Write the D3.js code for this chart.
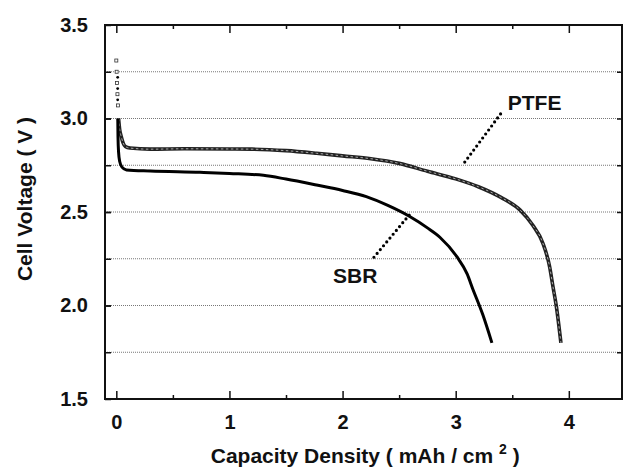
<!DOCTYPE html>
<html>
<head>
<meta charset="utf-8">
<script src="https://cdn.jsdelivr.net/npm/d3@7"></script>
<style>
  body { margin: 0; background: #fff; }
  svg text { font-family: "Liberation Sans", Arial, sans-serif; font-weight: bold; fill: #111; }
</style>
</head>
<body>
<svg width="625" height="470"></svg>
<script>
// discharge curves
const ptfeCapacity = [0, 0.003, 0.006, 0.01, 0.015, 0.02, 0.03, 0.045, 0.06, 0.08, 0.12, 0.3, 0.6, 1.0, 1.2, 1.5, 1.77, 2.0, 2.25, 2.5, 2.75, 3.0, 3.2, 3.4, 3.57, 3.68, 3.77, 3.83, 3.86, 3.89, 3.93];
const ptfeVoltage  = [3.31, 3.25, 3.19, 3.13, 3.07, 3.0, 2.94, 2.9, 2.87, 2.85, 2.842, 2.836, 2.838, 2.837, 2.836, 2.828, 2.814, 2.80, 2.785, 2.76, 2.718, 2.677, 2.635, 2.578, 2.51, 2.43, 2.334, 2.208, 2.10, 1.994, 1.80];

const sbrCapacity = [0.012, 0.012, 0.012, 0.013, 0.015, 0.02, 0.03, 0.05, 0.09, 0.3, 0.74, 1.0, 1.3, 1.5, 1.77, 2.0, 2.21, 2.4, 2.59, 2.75, 2.86, 3.01, 3.1, 3.15, 3.24, 3.32];
const sbrVoltage  = [3.22, 3.16, 3.1, 3.0, 2.9, 2.82, 2.77, 2.74, 2.725, 2.719, 2.712, 2.706, 2.696, 2.676, 2.644, 2.615, 2.582, 2.535, 2.477, 2.415, 2.365, 2.261, 2.17, 2.09, 1.95, 1.80];

const xTicks = [0, 1, 2, 3, 4];
const xMinorTicks = [0.5, 1.5, 2.5, 3.5];
const yTicks = [1.5, 2.0, 2.5, 3.0, 3.5];
const yGrid = [1.75, 2.0, 2.25, 2.5, 2.75, 3.0, 3.25];

// labels with their leader lines, in data units
const labels = [
  { text: "PTFE", x: 3.46, y: 3.045, from: [3.08, 2.767], to: [3.416, 3.04] },
  { text: "SBR",  x: 1.915, y: 2.12,  from: [2.277, 2.258], to: [2.589, 2.484] }
];

const svg = d3.select("svg");
const margin = { top: 25, right: 3, bottom: 71, left: 105 };
const width = +svg.attr("width") - margin.left - margin.right,
      height = +svg.attr("height") - margin.top - margin.bottom;

const g = svg.append("g").attr("transform", `translate(${margin.left},${margin.top})`);

const x = d3.scaleLinear().domain([-0.1, 4.47]).range([0, width]);
const y = d3.scaleLinear().domain([1.5, 3.5]).range([height, 0]);

// dotted grid
g.selectAll(".grid")
  .data(yGrid)
  .enter()
  .append("line")
  .attr("x1", 0).attr("x2", width)
  .attr("y1", d => y(d)).attr("y2", d => y(d))
  .attr("stroke", "#777")
  .attr("stroke-width", 1)
  .attr("stroke-dasharray", "1,1");

// axes with inward ticks
function styleAxis(sel) {
  sel.select(".domain").remove();
  sel.selectAll(".tick line").attr("stroke", "#111").attr("stroke-width", 1.5);
}

g.append("g").attr("transform", `translate(0,${height})`)
  .call(d3.axisBottom(x).tickValues(xTicks).tickSize(-8).tickPadding(16).tickFormat(d3.format("d")))
  .call(styleAxis)
  .selectAll("text").style("font-size", "20px").attr("fill", "#111");
g.append("g").attr("transform", `translate(0,${height})`)
  .call(d3.axisBottom(x).tickValues(xMinorTicks).tickSize(-4).tickFormat(""))
  .call(styleAxis);
g.append("g")
  .call(d3.axisTop(x).tickValues(xTicks).tickSize(-8).tickFormat(""))
  .call(styleAxis);
g.append("g")
  .call(d3.axisTop(x).tickValues(xMinorTicks).tickSize(-4).tickFormat(""))
  .call(styleAxis);

g.append("g")
  .call(d3.axisLeft(y).tickValues(yTicks).tickSize(-6).tickPadding(17).tickFormat(d3.format(".1f")))
  .call(styleAxis)
  .selectAll("text").style("font-size", "20px").attr("fill", "#111");
g.append("g")
  .call(d3.axisLeft(y).tickValues(yGrid).tickSize(-6).tickFormat(""))
  .call(styleAxis);
g.append("g").attr("transform", `translate(${width},0)`)
  .call(d3.axisRight(y).tickValues(yGrid).tickSize(-5).tickFormat(""))
  .call(styleAxis);

// frame
g.append("rect")
  .attr("width", width).attr("height", height)
  .attr("fill", "none").attr("stroke", "#111").attr("stroke-width", 2);

const ptfe = ptfeCapacity.map((c, i) => ({ c, v: ptfeVoltage[i] }));
const sbr = sbrCapacity.map((c, i) => ({ c, v: sbrVoltage[i] }));

const line = d3.line().curve(d3.curveMonotoneX).x(d => x(d.c)).y(d => y(d.v));

// PTFE: chain of open squares
const ptfeLine = ptfe.filter(d => d.v <= 3.0);
g.append("path").datum(ptfeLine)
  .attr("d", line).attr("fill", "none")
  .attr("stroke", "#222").attr("stroke-width", 3.6);
g.append("path").datum(ptfeLine)
  .attr("d", line).attr("fill", "none")
  .attr("stroke", "#aaa").attr("stroke-width", 1)
  .attr("stroke-dasharray", "2.5,2.5");
g.selectAll(".ptfe-pt")
  .data(ptfe.filter(d => d.v > 3.0))
  .enter()
  .append("rect")
  .attr("x", d => x(d.c) - 1.5).attr("y", d => y(d.v) - 1.5)
  .attr("width", 3).attr("height", 3)
  .attr("fill", "#fff").attr("stroke", "#333").attr("stroke-width", 0.8);

// SBR: solid line
const sbrLine = sbr.filter(d => d.v <= 3.0);
g.append("path").datum(sbrLine)
  .attr("d", line).attr("fill", "none")
  .attr("stroke", "#000").attr("stroke-width", 3)
  .attr("stroke-linejoin", "round");
g.selectAll(".sbr-pt")
  .data(sbr.filter(d => d.v > 3.0))
  .enter()
  .append("circle")
  .attr("cx", d => x(d.c)).attr("cy", d => y(d.v))
  .attr("r", 1.4).attr("fill", "#000");

// labels and dotted leaders
labels.forEach(l => {
  g.append("line")
    .attr("x1", x(l.from[0])).attr("y1", y(l.from[1]))
    .attr("x2", x(l.to[0])).attr("y2", y(l.to[1]))
    .attr("stroke", "#000").attr("stroke-width", 3.2)
    .attr("stroke-linecap", "round")
    .attr("stroke-dasharray", "0,5");
  g.append("text")
    .attr("x", x(l.x)).attr("y", y(l.y))
    .style("font-size", "21px")
    .text(l.text);
});

// axis titles
svg.append("text")
  .attr("x", margin.left + x(2.2))
  .attr("y", 463)
  .attr("text-anchor", "middle")
  .style("font-size", "21px")
  .html('Capacity Density ( mAh / cm <tspan dy="-9" font-size="14px">2</tspan><tspan dy="9"> )</tspan>');

svg.append("text")
  .attr("transform", `translate(32,199) rotate(-90)`)
  .attr("text-anchor", "middle")
  .style("font-size", "21px")
  .text("Cell Voltage ( V )");
</script>
</body>
</html>
